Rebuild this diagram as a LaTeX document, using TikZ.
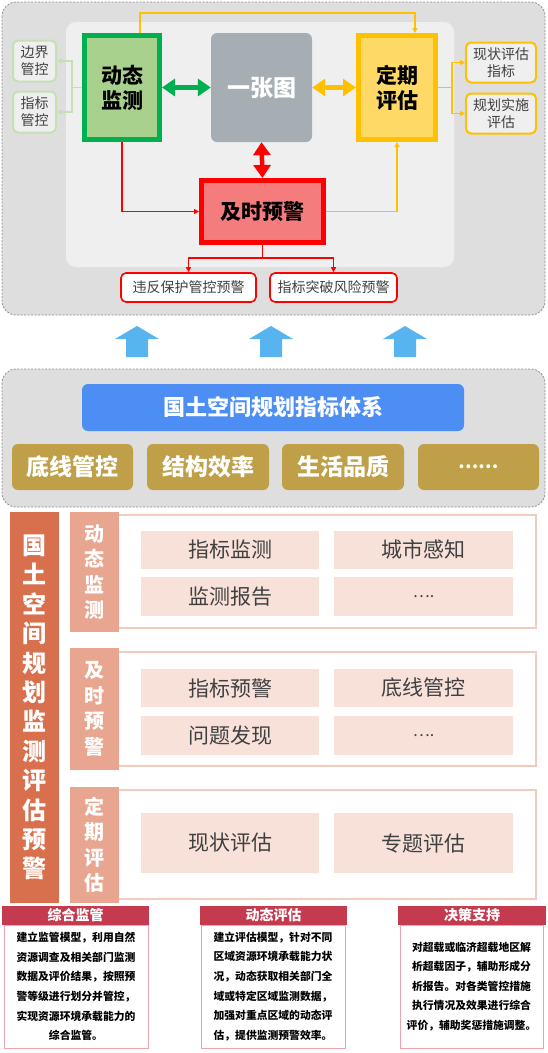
\documentclass[tikz,border=0pt]{standalone}
\usepackage{fontspec}
\setmainfont{Noto Sans CJK SC}
\usetikzlibrary{arrows.meta}
\newcommand\myfs[2]{\fontsize{#1}{#2}\selectfont}
\definecolor{panelbg}{HTML}{DEDEDE}
\definecolor{panelline}{HTML}{8E8E8E}
\definecolor{innerbg}{HTML}{EFEFEF}
\definecolor{gfill}{HTML}{A9D18E}
\definecolor{gline}{HTML}{00B050}
\definecolor{lgline}{HTML}{C5E0B4}
\definecolor{yfill}{HTML}{FFD966}
\definecolor{yline}{HTML}{FFC000}
\definecolor{rfill}{HTML}{F47C7C}
\definecolor{rline}{HTML}{FF0000}
\definecolor{mapgray}{HTML}{A6ADB3}
\definecolor{txtgray}{HTML}{404040}
\definecolor{upblue}{HTML}{58B4EE}
\definecolor{titleblue}{HTML}{4D8EF5}
\definecolor{gold}{HTML}{BFA049}
\definecolor{terra}{HTML}{D9704D}
\definecolor{seclabel}{HTML}{E8A58F}
\definecolor{secline}{HTML}{F2CBBF}
\definecolor{cellfill}{HTML}{F8E1D9}
\definecolor{cardhead}{HTML}{C43B4F}
\definecolor{cardline}{HTML}{E9A6AE}
\begin{document}
\begin{tikzpicture}[x=1pt,y=-1pt,
  panel/.style={draw=panelline, dash pattern=on 2pt off 1.5pt, fill=panelbg, rounded corners=14pt, line width=0.8pt},
  mainbox/.style={line width=5pt, inner sep=0pt, align=center, font=\bfseries\myfs{21}{25}},
  sidebox/.style={rounded corners=5pt, line width=2pt, fill=innerbg, inner sep=0pt, align=center, text=txtgray, font=\myfs{14}{17}},
  warnbox/.style={rounded corners=5pt, line width=1.6pt, draw=rline, fill=white, inner sep=0pt, align=center, text=txtgray, font=\myfs{14}{17}},
  thinarrow/.style={line width=1.4pt, -{Triangle[length=5pt,width=5pt]}},
  fatarrow/.style={line width=4.5pt, {Triangle[length=13pt,width=17pt]}-{Triangle[length=13pt,width=17pt]}},
  goldbox/.style={fill=gold, rounded corners=6pt, inner sep=0pt, text=white, font=\bfseries\myfs{23}{26}, minimum height=46pt},
  vlabel/.style={inner sep=0pt, align=center, text=white, font=\bfseries\myfs{20}{25.5}},
  cell/.style={fill=cellfill, inner sep=0pt, text=txtgray, font=\myfs{21}{24}},
  cardhd/.style={fill=cardhead, inner sep=0pt, text=white, font=\bfseries\myfs{14}{16}, minimum height=19pt},
  cardbody/.style={draw=cardline, line width=1pt, fill=white, inner sep=0pt, align=center, font=\bfseries\myfs{10.8}{19.6}, minimum height=123pt}
]
\useasboundingbox (0,0) rectangle (547,1053);

% ---------- top panel ----------
\path[panel] (2,2) rectangle (545,315);
\fill[innerbg, rounded corners=10pt] (66,22) rectangle (454,267);

\node[mainbox, draw=gline, fill=gfill, minimum width=75pt, minimum height=104pt] (dt) at (122,87.5) {动态\\监测};
\node[fill=mapgray, rounded corners=6pt, minimum width=101pt, minimum height=109pt, inner sep=0pt, text=white, font=\bfseries\myfs{23}{26}] (yzt) at (261.5,87.5) {一张图};
\node[mainbox, draw=yline, fill=yfill, minimum width=77pt, minimum height=104pt] (dq) at (397,87.5) {定期\\评估};
\node[mainbox, draw=rline, fill=rfill, minimum width=122pt, minimum height=62pt] (js) at (262.5,211.5) {及时预警};

\node[sidebox, draw=lgline, minimum width=43pt, minimum height=41pt] (bj) at (34.5,61) {边界\\管控};
\node[sidebox, draw=lgline, minimum width=43pt, minimum height=41pt] (zb) at (34.5,112) {指标\\管控};
\node[sidebox, draw=yline, minimum width=70pt, minimum height=40pt] (xz) at (501,62.5) {现状评估\\指标};
\node[sidebox, draw=yline, minimum width=70pt, minimum height=40pt] (gh) at (501,113.5) {规划实施\\评估};

\node[warnbox, minimum width=135pt, minimum height=29pt] (wf) at (188.5,287.5) {违反保护管控预警};
\node[warnbox, minimum width=127pt, minimum height=29pt] (zt) at (333.5,287.5) {指标突破风险预警};

% connectors
\coordinate (yt1) at (140,13);
\coordinate (yt2) at (415,13);
\draw[thinarrow, yline] (dt.north -| yt1) -- (yt1) -- (yt2) -- (dq.north -| yt2);
\draw[fatarrow, gline] (dt.east) -- (yzt.west);
\draw[fatarrow, yline] (yzt.east) -- (dq.west);
\draw[fatarrow, rline] (yzt.south) -- (js.north);
\draw[thinarrow, rline] (dt.south) |- (js.west);
\draw[thinarrow, yline] (js.east) -| (dq.south);
\coordinate (jb) at (262.5,258);
\draw[line width=1.4pt, rline] (js.south) -- (jb);
\draw[thinarrow, rline] (jb) -| (wf.north);
\draw[thinarrow, rline] (jb) -| (zt.north);
\coordinate (gj) at (72,87.5);
\draw[line width=1.8pt, lgline] (dt.west) -- (gj);
\draw[thinarrow, line width=1.8pt, lgline] (gj) |- (bj.east);
\draw[thinarrow, line width=1.8pt, lgline] (gj) |- (zb.east);
\coordinate (yj) at (452,87.5);
\draw[line width=1.4pt, yline] (dq.east) -- (yj);
\draw[thinarrow, yline] (yj) |- (xz.west);
\draw[thinarrow, yline] (yj) |- (gh.west);

% ---------- up arrows ----------
\foreach \cx in {137,271,405}{
  \fill[upblue] (\cx-11,357) -- (\cx-11,339) -- (\cx-22,339) -- (\cx,326) -- (\cx+22,339) -- (\cx+11,339) -- (\cx+11,357) -- cycle;
}

% ---------- middle panel ----------
\path[panel] (2,369) rectangle (545,507);
\node[fill=titleblue, rounded corners=6pt, minimum width=382pt, minimum height=47pt, inner sep=0pt, text=white, font=\bfseries\myfs{22}{25}] (title) at (273,407.5) {国土空间规划指标体系};
\node[goldbox, minimum width=121pt] (g1) at (72.5,467) {底线管控};
\node[goldbox, minimum width=122pt] (g2) at (208,467) {结构效率};
\node[goldbox, minimum width=122pt] (g3) at (343,467) {生活品质};
\node[goldbox, minimum width=121pt] (g4) at (478.5,467) {\myfs{18}{20}……};

% ---------- lower section ----------
\node[fill=terra, minimum width=49pt, minimum height=391pt, inner sep=0pt, align=center, text=white, font=\bfseries\myfs{24}{29.4}] (big) at (34.5,707.5) {国\\土\\空\\间\\规\\划\\监\\测\\评\\估\\预\\警};

\draw[secline, line width=1.5pt] (100,515) rectangle (536,628);
\draw[secline, line width=1.5pt] (100,652) rectangle (536,766);
\draw[secline, line width=1.5pt] (100,790) rectangle (536,899);

\node[vlabel, fill=seclabel, minimum width=49pt, minimum height=120pt] (s1) at (94.5,572) {动\\态\\监\\测};
\node[vlabel, fill=seclabel, minimum width=49pt, minimum height=122pt] (s2) at (94.5,709) {及\\时\\预\\警};
\node[vlabel, fill=seclabel, minimum width=49pt, minimum height=116pt] (s3) at (94.5,845) {定\\期\\评\\估};

\node[cell, minimum width=178pt, minimum height=38pt] (c11) at (230,549.5) {指标监测};
\node[cell, minimum width=179pt, minimum height=38pt] (c12) at (423.5,549.5) {城市感知};
\node[cell, minimum width=178pt, minimum height=39pt] (c13) at (230,596.5) {监测报告};
\node[cell, minimum width=179pt, minimum height=39pt] (c14) at (423.5,596.5) {\myfs{16}{18}….};
\node[cell, minimum width=178pt, minimum height=38pt] (c21) at (230,688) {指标预警};
\node[cell, minimum width=179pt, minimum height=38pt] (c22) at (423.5,688) {底线管控};
\node[cell, minimum width=178pt, minimum height=39pt] (c23) at (230,735.5) {问题发现};
\node[cell, minimum width=179pt, minimum height=39pt] (c24) at (423.5,735.5) {\myfs{16}{18}….};
\node[cell, minimum width=178pt, minimum height=60pt] (c31) at (230,843) {现状评估};
\node[cell, minimum width=179pt, minimum height=60pt] (c32) at (423.5,843) {专题评估};

% ---------- cards ----------
\node[cardbody, minimum width=144pt] (b1) at (76,986.5) {建立监管模型，利用自然\\资源调查及相关部门监测\\数据及评价结果，按照预\\警等级进行划分并管控，\\实现资源环境承载能力的\\综合监管。};
\node[cardbody, minimum width=144pt] (b2) at (273,986.5) {建立评估模型，针对不同\\区域资源环境承载能力状\\况，动态获取相关部门全\\域或特定区域监测数据，\\加强对重点区域的动态评\\估，提供监测预警效率。};
\node[cardbody, minimum width=143pt] (b3) at (471.5,986.5) {对超载或临济超载地区解\\析超载因子，辅助形成分\\析报告。对各类管控措施\\执行情况及效果进行综合\\评价，辅助奖惩措施调整。};
\node[cardhd, minimum width=147pt] (h1) at (75.5,915.5) {综合监管};
\node[cardhd, minimum width=147pt] (h2) at (273.5,915.5) {动态评估};
\node[cardhd, minimum width=148pt] (h3) at (472,915.5) {决策支持};
\end{tikzpicture}
\end{document}
